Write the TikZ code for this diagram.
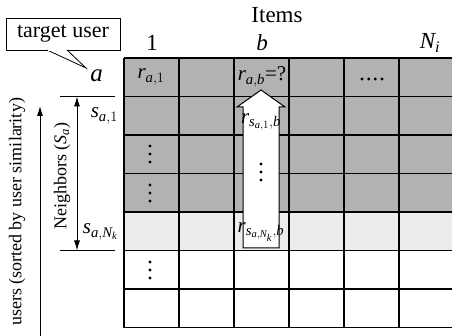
\documentclass[tikz,border=0pt]{standalone}
\usepackage{amsmath}
\usepackage{fontspec}
\setmainfont{Liberation Serif}
\usetikzlibrary{arrows.meta}
\newcommand{\vi}[1]{\textit{#1}}

\begin{document}
\begin{tikzpicture}[
    x=1pt, y=-1pt,
    lbl/.style={font=\fontsize{23}{25}\selectfont, inner sep=0pt},
    side/.style={font=\fontsize{18}{20}\selectfont, inner sep=0pt, rotate=90},
    cell/.style={font=\fontsize{21}{23}\selectfont, inner sep=0pt},
    gridline/.style={line width=1.2pt},
    callbox/.style={draw, fill=white, line width=0.8pt, minimum width=114pt, minimum height=32pt, inner sep=0pt, font=\fontsize{22}{24}\selectfont},
    arrow/.style={-{Latex[length=10pt,width=6pt]}, line width=0.9pt},
    dblarrow/.style={{Latex[length=10pt,width=6pt]}-{Latex[length=10pt,width=6pt]}, line width=0.9pt},
    vdotpic/.pic={\foreach \k in {-8,0,8} \fill (0,\k) circle (1.6pt);},
    hdotpic/.pic={\foreach \k in {-10,-3.3,3.3,10} \fill (\k,0) circle (1.6pt);}
]
    \useasboundingbox (0,0) rectangle (452,336);

    % Shaded rows
    \fill[gray!60] (124,58) rectangle (455,212);
    \fill[gray!15] (124,212) rectangle (455,250.5);

    % Grid
    \foreach \i in {0,...,7}
        \draw[gridline] (124,58+38.5*\i) -- (455,58+38.5*\i);
    \foreach \j in {0,...,6}
        \draw[gridline] (124+55*\j,58) -- (124+55*\j,327.5);

    % Column labels
    \node[lbl] (items) at (277,15) {Items};
    \node[lbl] (col1) at (152,43) {1};
    \node[lbl] (colb) at (262,43) {\vi{b}};
    \node[lbl] (colN) at (430,43) {$\vi{N}_{\vi{i}}$};

    % Row labels
    \node[lbl, font=\fontsize{25}{27}\selectfont, anchor=east] (ua) at (103,76) {\vi{a}};
    \node[cell, anchor=east] (s1) at (118,116) {$\vi{s}_{\vi{a},1}$};
    \node[cell, anchor=east] (sN) at (118,232) {$\vi{s}_{\vi{a},\vi{N}_{\vi{k}}}$};

    % Callout
    \node[callbox] (target) at (63,34) {target user};
    \coordinate (tip) at (86,68);
    \coordinate (pl) at (47,50);
    \coordinate (pr) at (67,50);
    \draw[line width=0.8pt, fill=white] (pl) -- (tip) -- (pr);
    \draw[white, line width=1.4pt, shorten >=0.6pt, shorten <=0.6pt] (pl) -- (pr);

    % Cells of the target user
    \node[cell] (ra1) at (151,77) {$\vi{r}_{\vi{a},1}$};
    \node[cell] (rab) at (262,77) {$\vi{r}_{\vi{a},\vi{b}}$=?};
    \pic at (372,79) {hdotpic};
    \pic at (150,154) {vdotpic};
    \pic at (150,193) {vdotpic};
    \pic at (150,270) {vdotpic};

    % Block arrow in column b
    \draw[line width=1pt, fill=white] (243,248) -- (243,107) -- (237,107) -- (261,90)
        -- (285,107) -- (279,107) -- (279,248) -- cycle;
    \node[cell] (rs1) at (261,122) {$\vi{r}_{\vi{s}_{\vi{a},1},\vi{b}}$};
    \pic at (261,172) {vdotpic};
    \node[cell] (rsN) at (261,232) {$\vi{r}_{\vi{s}_{\vi{a},\vi{N}_{\vi{k}}},\vi{b}}$};

    % Neighbours
    \draw[line width=1pt] (60,96.5) -- (115,96.5);
    \draw[line width=1pt] (60,250.5) -- (115,250.5);
    \coordinate (ntop) at (77,96.5);
    \coordinate (nbot) at (77,250.5);
    \draw[dblarrow] (ntop) -- (nbot);
    \node[side] (neigh) at (62,176) {Neighbors ($\vi{S}_{\vi{a}}$)};

    % Users
    \coordinate (ubot) at (40,340);
    \coordinate (utop) at (40,106);
    \draw[arrow] (ubot) -- (utop);
    \node[side] (users) at (17,212) {users (sorted by user similarity)};
\end{tikzpicture}
\end{document}
